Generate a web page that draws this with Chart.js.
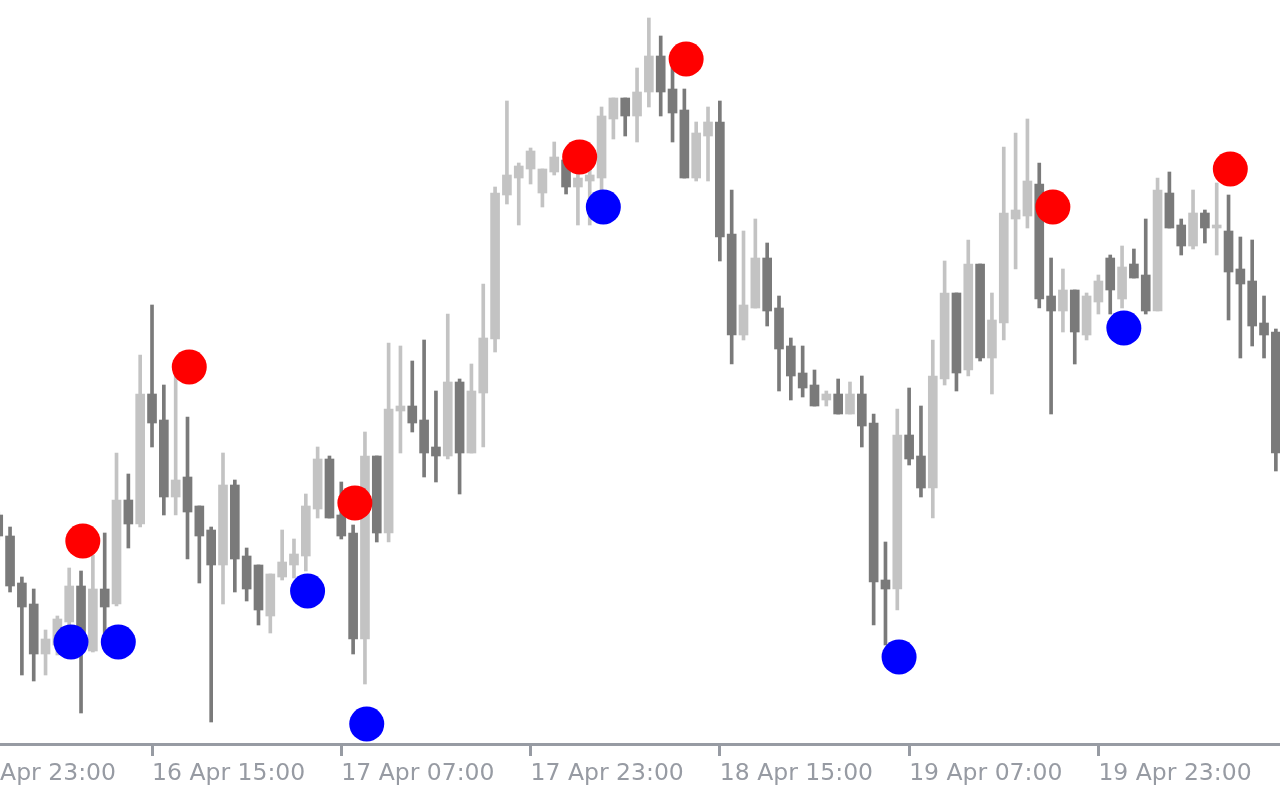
<!DOCTYPE html>
<html>
<head>
<meta charset="utf-8">
<title>H1 candles with signal dots</title>
<script src="https://cdn.jsdelivr.net/npm/chart.js@4.4.1/dist/chart.umd.min.js"></script>
<style>
    html, body { margin: 0; padding: 0; background: #ffffff; overflow: hidden; }
    #chart { display: block; }
</style>
</head>
<body>
<canvas id="chart" width="1280" height="800"></canvas>
<script>
// Hourly bars, left to right; the first bar is 13 hours before 16 Apr 15:00
const firstBar = -13;
const opens  = [229, 208, 161, 140,  90,  99, 122, 158,  93, 155, 140, 244, 220, 350, 324, 247, 267, 238, 214, 179,
                259, 188, 179, 128, 167, 179, 188, 235, 285, 229, 211, 105, 288, 211, 333, 338, 324, 297, 288, 362,
                291, 351, 405, 549, 566, 575, 551, 572, 584, 557, 563, 566, 625, 646, 628, 652, 688, 655, 634, 566,
                608, 622, 510, 409, 436, 486, 436, 398, 371, 359, 344, 350, 330, 350, 321, 164, 155, 309, 288, 256,
                365, 451, 374, 480, 386, 421, 525, 528, 560, 448, 433, 454, 409, 442, 486, 445, 480, 469, 433, 551,
                519, 498, 531, 516, 513, 475, 463, 421, 412];
const highs  = [232, 217, 167, 155, 114, 128, 176, 173, 189, 211, 291, 270, 389, 439, 359, 369, 327, 238, 217, 291,
                264, 196, 179, 170, 214, 205, 250, 297, 288, 262, 219, 312, 288, 401, 398, 383, 404, 353, 430, 365,
                380, 460, 557, 643, 581, 596, 575, 602, 594, 584, 584, 637, 646, 646, 676, 726, 708, 679, 655, 622,
                637, 643, 554, 513, 525, 501, 448, 406, 398, 374, 353, 365, 362, 368, 330, 202, 335, 356, 338, 404,
                483, 451, 504, 480, 451, 597, 611, 625, 581, 486, 475, 454, 451, 469, 489, 498, 495, 525, 566, 572,
                525, 554, 534, 561, 549, 507, 504, 448, 415];
const lows   = [204, 152,  69,  63,  69,  89, 114,  31,  92, 104, 138, 196, 217, 297, 229, 229, 185, 161,  22, 140,
                152, 143, 119, 111, 164, 166, 173, 226, 226, 205,  90,  60, 202, 202, 291, 312, 267, 262, 285, 250,
                291, 297, 392, 540, 519, 560, 537, 569, 550, 519, 519, 549, 605, 608, 602, 637, 628, 602, 566, 563,
                563, 483, 380, 404, 436, 418, 353, 344, 347, 338, 338, 330, 330, 297, 119,  99, 134, 279, 247, 226,
                359, 353, 368, 383, 350, 404, 475, 516, 436, 330, 412, 380, 404, 430, 430, 436, 466, 430, 433, 516,
                489, 495, 501, 489, 424, 386, 398, 386, 273];
const closes = [208, 158, 137,  90, 105, 125, 158,  99, 155, 137, 244, 220, 350, 321, 247, 264, 232, 208, 179, 259,
                185, 155, 134, 170, 182, 190, 238, 285, 226, 208, 105, 288, 211, 335, 338, 321, 291, 288, 362, 291,
                353, 406, 551, 569, 578, 593, 575, 587, 557, 566, 569, 628, 646, 628, 652, 688, 652, 631, 566, 611,
                622, 507, 409, 439, 486, 433, 395, 368, 356, 338, 350, 330, 350, 318, 162, 155, 309, 285, 256, 368,
                451, 371, 480, 386, 424, 531, 534, 563, 445, 433, 454, 412, 448, 463, 454, 477, 466, 433, 554, 516,
                498, 531, 516, 519, 472, 460, 418, 409, 291];

// Signal dots: bar index and level
const redIdx  = [-6, 3, 17, 36, 45, 76, 91];
const redVal  = [203, 377, 241, 587, 685, 537, 575];
const blueIdx = [-7, -3, 13, 18, 38, 63, 82];
const blueVal = [102, 102, 153, 20, 537, 87, 416];

// Time axis labels, one every 16 bars
const tickIdx    = [-16, 0, 16, 32, 48, 64, 80];
const tickLabels = ['15 Apr 23:00', '16 Apr 15:00', '17 Apr 07:00', '17 Apr 23:00',
                    '18 Apr 15:00', '19 Apr 07:00', '19 Apr 23:00'];

const BULL = '#c3c3c3';
const BEAR = '#7a7a7a';
const AXIS = '#979ba3';
const DOT_SHIFT = 0.15; // the terminal draws its arrows a little right of the bar centre

const barIdx = opens.map((_, k) => k + firstBar);
const candleColors = opens.map((o, k) => (closes[k] >= o ? BULL : BEAR));

const wicks = barIdx.map((x, k) => ({ x: x, y: [lows[k], highs[k]] }));
const bodies = barIdx.map((x, k) => ({ x: x, y: [opens[k], closes[k]] }));

new Chart(document.getElementById('chart'), {
    type: 'bar',
    data: {
        datasets: [
            {
                type: 'scatter',
                data: redIdx.map((x, k) => ({ x: x + DOT_SHIFT, y: redVal[k] })),
                backgroundColor: '#ff0000',
                pointRadius: 17.5,
                pointBorderWidth: 0,
                order: 0
            },
            {
                type: 'scatter',
                data: blueIdx.map((x, k) => ({ x: x + DOT_SHIFT, y: blueVal[k] })),
                backgroundColor: '#0000ff',
                pointRadius: 17.5,
                pointBorderWidth: 0,
                order: 0
            },
            {
                data: bodies,
                backgroundColor: candleColors,
                barThickness: 9,
                grouped: false,
                borderWidth: 0,
                order: 1
            },
            {
                data: wicks,
                backgroundColor: candleColors,
                barThickness: 3,
                grouped: false,
                borderWidth: 0,
                order: 2
            }
        ]
    },
    options: {
        responsive: false,
        animation: false,
        devicePixelRatio: 1,
        layout: { padding: 0, autoPadding: false },
        plugins: {
            legend: { display: false },
            tooltip: { enabled: false }
        },
        scales: {
            x: {
                type: 'linear',
                position: 'bottom',
                offset: false,
                min: -12.85,
                max: 95.35,
                afterBuildTicks: function(scale) {
                    scale.ticks = tickIdx.map(v => ({ value: v }));
                },
                afterFit: function(scale) {
                    scale.height = 56;
                    scale.paddingLeft = 0;
                    scale.paddingRight = 0;
                },
                border: { display: true, color: AXIS, width: 3 },
                grid: {
                    offset: false,
                    drawOnChartArea: false,
                    drawTicks: true,
                    tickLength: 12,
                    color: AXIS,
                    lineWidth: 3
                },
                ticks: {
                    autoSkip: false,
                    maxRotation: 0,
                    minRotation: 0,
                    align: 'start',
                    padding: 4,
                    color: AXIS,
                    font: { family: '"DejaVu Sans", sans-serif', size: 23.5 },
                    callback: function(value) {
                        const k = tickIdx.indexOf(value);
                        return k >= 0 ? tickLabels[k] : '';
                    }
                }
            },
            y: {
                display: false,
                min: 0,
                max: 744
            }
        }
    }
});
</script>
</body>
</html>
